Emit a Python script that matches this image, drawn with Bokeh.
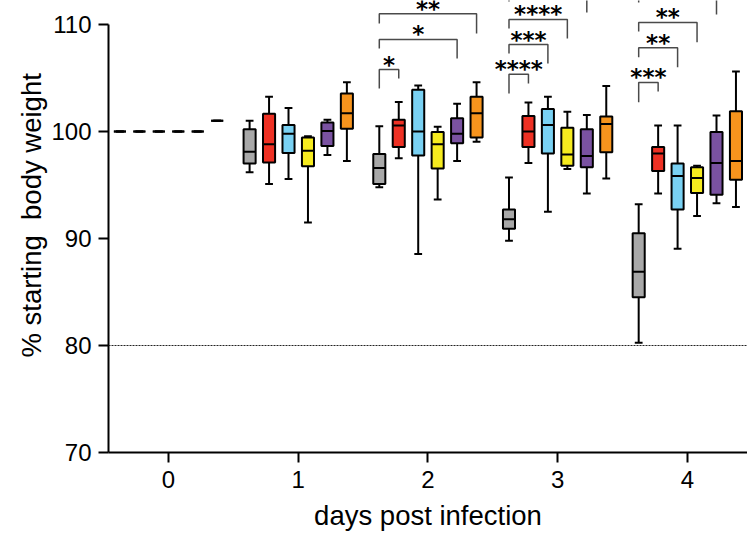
from bokeh.plotting import figure
from bokeh.models import ColumnDataSource, Span, Range1d, FixedTicker, Title
from bokeh.core.properties import value
from bokeh.embed import file_html
from bokeh.resources import INLINE

# ---------------- data ----------------
days = [0, 1, 2, 3, 4]
groups = ["gray", "red", "blue", "yellow", "purple", "orange"]
group_colors = ["#A8A8A8", "#EE3124", "#79D1F3", "#F6EB1F", "#7A52A1", "#F7941D"]

# box-plot statistics: one list per group, values for days 0..4
whisker_low = [
    [100.0, 96.2, 94.8, 89.8, 80.25],   # gray
    [100.0, 95.1, 97.5, 97.05, 94.2],   # red
    [100.0, 95.55, 88.55, 92.5, 89.05], # blue
    [100.0, 91.5, 93.65, 96.5, 92.1],   # yellow
    [100.0, 97.8, 97.25, 94.2, 93.3],   # purple
    [101.0, 97.25, 99.05, 95.6, 92.95], # orange
]
q1 = [
    [100.0, 97.0, 95.1, 90.9, 84.5],
    [100.0, 97.1, 98.55, 98.55, 96.3],
    [100.0, 98.0, 97.75, 97.95, 92.7],
    [100.0, 96.75, 96.55, 96.8, 94.25],
    [100.0, 98.65, 98.9, 96.65, 94.1],
    [101.0, 100.25, 99.45, 98.05, 95.5],
]
median = [
    [100.0, 98.1, 96.6, 91.8, 86.9],
    [100.0, 98.8, 100.55, 100.0, 97.95],
    [100.0, 99.8, 100.0, 100.6, 95.85],
    [100.0, 98.2, 98.8, 97.85, 95.65],
    [100.0, 100.05, 99.8, 97.7, 97.05],
    [101.0, 101.7, 101.7, 100.7, 97.25],
]
q3 = [
    [100.0, 100.2, 97.9, 92.7, 90.5],
    [100.0, 101.65, 101.1, 101.45, 98.55],
    [100.0, 100.6, 103.9, 102.1, 97.0],
    [100.0, 99.45, 99.95, 100.35, 96.65],
    [100.0, 100.85, 101.25, 100.2, 99.95],
    [101.0, 103.55, 103.25, 101.4, 101.9],
]
whisker_high = [
    [100.0, 101.0, 100.5, 95.7, 93.2],
    [100.0, 103.25, 102.75, 102.7, 100.55],
    [100.0, 102.2, 104.3, 103.25, 100.55],
    [100.0, 99.55, 100.45, 101.85, 96.8],
    [100.0, 101.1, 102.6, 101.55, 101.5],
    [101.0, 104.6, 104.6, 104.25, 105.6],
]

# significance brackets (all from the gray group); labels of the top brackets lie outside the view
br_day = [2, 2, 2, 3, 3, 3, 3, 4, 4, 4, 4]
br_to = [1, 4, 5, 1, 2, 3, 4, 1, 2, 3, 4]
br_y = [105.79, 108.6, 111.0, 105.36, 108.13, 110.47, 113.08, 104.58, 107.82, 110.19, 112.9]
br_left_end = [104.02, 107.76, 110.09, 103.55, 107.29, 109.63, 112.15, 102.74, 106.94, 109.35, 112.06]
br_right_end = [104.95, 106.82, 109.16, 104.49, 106.36, 108.69, 111.12, 103.74, 106.01, 108.35, 110.93]
br_label = ["*", "*", "**", "****", "***", "****", "", "***", "**", "**", ""]

threshold = 80
y_title = "% starting\u00a0 body weight"
x_title = "days post infection"

# ---------------- layout constants ----------------
OFFSETS = [-0.375, -0.225, -0.075, 0.075, 0.225, 0.375]
BOX_W = 0.093
CAP_W = 0.06
FONT = "Liberation Sans"

xs, lo, a, med, b, hi, col = [], [], [], [], [], [], []
for gi in range(len(groups)):
    for di, d in enumerate(days):
        xs.append(d + OFFSETS[gi])
        lo.append(whisker_low[gi][di]); a.append(q1[gi][di]); med.append(median[gi][di])
        b.append(q3[gi][di]); hi.append(whisker_high[gi][di]); col.append(group_colors[gi])

src = ColumnDataSource(dict(
    x=xs, lo=lo, q1=a, med=med, q3=b, hi=hi, color=col,
    bl=[x - BOX_W / 2 for x in xs], br=[x + BOX_W / 2 for x in xs],
    cl=[x - CAP_W / 2 for x in xs], cr=[x + CAP_W / 2 for x in xs],
))

p = figure(width=747, height=533,
           x_range=Range1d(-0.463, 4.464), y_range=Range1d(70, 112.243),
           output_backend="svg", toolbar_location=None,
           min_border_left=108, min_border_right=0, min_border_top=0, min_border_bottom=81)
p.outline_line_color = None
p.xgrid.visible = False
p.ygrid.visible = False
p.background_fill_color = "white"
p.border_fill_color = "white"

p.add_layout(Span(location=threshold, dimension="width", line_color="#222222",
                  line_width=1, line_dash="2 1"))

p.segment(x0="x", y0="lo", x1="x", y1="hi", source=src, line_color="black", line_width=2)
p.segment(x0="cl", y0="lo", x1="cr", y1="lo", source=src, line_color="black", line_width=2)
p.segment(x0="cl", y0="hi", x1="cr", y1="hi", source=src, line_color="black", line_width=2)
p.vbar(x="x", width=BOX_W, bottom="q1", top="q3", source=src,
       fill_color="color", line_color="black", line_width=2)
p.segment(x0="bl", y0="med", x1="br", y1="med", source=src, line_color="black", line_width=2)

# brackets
bxs, bys, tx, ty, tl = [], [], [], [], []
for d, g, y, le, re_, lab in zip(br_day, br_to, br_y, br_left_end, br_right_end, br_label):
    xl = d + OFFSETS[0]
    xr = d + OFFSETS[g]
    bxs.append([xl, xl, xr, xr])
    bys.append([le, y, y, re_])
    if lab:
        tx.append((xl + xr) / 2); ty.append(y); tl.append(lab)
p.multi_line(xs=bxs, ys=bys, line_color="#4a4a4a", line_width=1.5)
p.text(x=tx, y=ty, text=tl, text_align="center", text_baseline="middle",
       y_offset=-5, text_font=value("DejaVu Sans"), text_font_style="bold",
       text_font_size="23px", text_color="black")

# axes
for ax in (p.xaxis[0], p.yaxis[0]):
    ax.axis_line_width = 2
    ax.axis_line_color = "black"
    ax.major_tick_line_width = 2
    ax.major_tick_line_color = "black"
    ax.major_tick_out = 10
    ax.major_tick_in = 0
    ax.minor_tick_line_color = None
    ax.major_label_text_font = FONT
    ax.major_label_text_font_size = "24px"
    ax.major_label_text_color = "black"
    ax.axis_label_text_font = FONT
    ax.axis_label_text_font_size = "27.5px"
    ax.axis_label_text_font_style = "normal"
    ax.axis_label_text_color = "black"

p.yaxis.ticker = FixedTicker(ticks=[70, 80, 90, 100, 110])
p.yaxis.bounds = (70, 110)
p.yaxis.major_label_standoff = 7

# y-axis title as a left-side title, shifted up from the frame bottom
p.add_layout(Title(text=y_title, align="left", offset=95, standoff=4,
                   text_font=FONT, text_font_size="27.5px", text_font_style="normal",
                   text_color="black"), "left")

p.xaxis.ticker = FixedTicker(ticks=days)
p.xaxis.major_label_standoff = 8
p.xaxis.axis_label_standoff = 9
p.xaxis.axis_label = x_title

open("out.html", "w").write(file_html(p, INLINE))
